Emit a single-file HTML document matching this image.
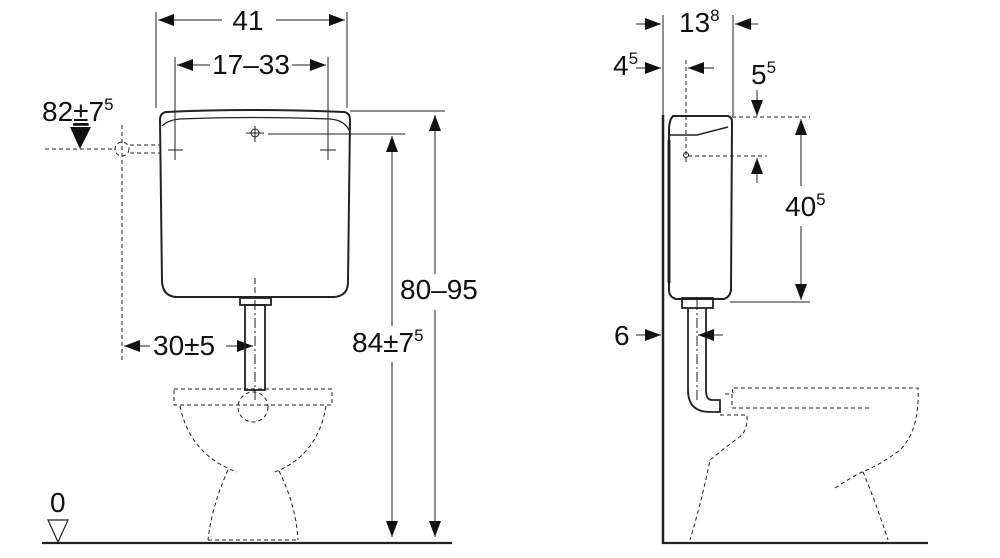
<!DOCTYPE html>
<html><head><meta charset="utf-8"><style>
html,body{margin:0;padding:0;background:#fff;}
svg{display:block;}
text{font-family:"Liberation Sans",sans-serif;fill:#111;}
</style></head><body>
<svg width="1000" height="558" viewBox="0 0 1000 558" xmlns="http://www.w3.org/2000/svg">
<defs>
<marker id="b" viewBox="0 0 16 12" refX="16" refY="6" markerWidth="16" markerHeight="12" orient="auto-start-reverse" markerUnits="userSpaceOnUse"><path d="M0,0L16,6L0,12z" fill="#111"/></marker>
</defs>
<g stroke="#222" stroke-width="1" fill="none">
<!-- LEFT VIEW -->
<line x1="156" y1="12" x2="156" y2="108"/>
<line x1="347" y1="12" x2="347" y2="108"/>
<line x1="158" y1="20" x2="222" y2="20" marker-start="url(#b)"/>
<line x1="276" y1="20" x2="345" y2="20" marker-end="url(#b)"/>
<line x1="175" y1="57" x2="175" y2="160"/>
<line x1="328" y1="57" x2="328" y2="160"/>
<line x1="177" y1="65" x2="210" y2="65" marker-start="url(#b)"/>
<line x1="292" y1="65" x2="326" y2="65" marker-end="url(#b)"/>
<path d="M166,112 Q248,108 344,112 Q350,113 350,120 L348,282 Q348,296 334,297 L176,297 Q163,296 162,282 L160,120 Q160,113 166,112Z" stroke-width="2"/>
<path d="M162,126 Q168,120 180,119 Q250,116 330,119 Q344,120 349,130" stroke-width="1.3"/>
<line x1="168" y1="150" x2="183" y2="150"/><line x1="175" y1="143" x2="175" y2="158"/>
<line x1="320" y1="150" x2="336" y2="150"/><line x1="328" y1="143" x2="328" y2="158"/>
<circle cx="255" cy="133" r="4"/><line x1="246" y1="133" x2="264" y2="133"/><line x1="255" y1="126" x2="255" y2="142"/>
<line x1="268" y1="134" x2="405" y2="134"/>
<line x1="350" y1="111" x2="445" y2="111"/>
<line x1="435" y1="115" x2="435" y2="274" marker-start="url(#b)"/>
<line x1="435" y1="310" x2="435" y2="537" marker-end="url(#b)"/>
<line x1="392" y1="136" x2="392" y2="326" marker-start="url(#b)"/>
<line x1="392" y1="362" x2="392" y2="537" marker-end="url(#b)"/>
<path d="M70,127 L91,127 L80,149Z" fill="#111" stroke="none"/>
<g stroke-dasharray="4,3">
<line x1="45" y1="149" x2="116" y2="149"/>
<circle cx="122" cy="149" r="7"/>
<line x1="130" y1="145" x2="160" y2="145"/>
<line x1="130" y1="153" x2="160" y2="153"/>
<line x1="122" y1="125" x2="122" y2="360"/>
<line x1="255" y1="278" x2="255" y2="295" stroke-dasharray="6,3"/>
</g>
<line x1="124" y1="346" x2="150" y2="346" marker-start="url(#b)"/>
<line x1="226" y1="346" x2="253" y2="346" marker-end="url(#b)"/>
<rect x="240" y="298" width="31" height="7" stroke-width="1.8"/>
<rect x="245" y="305" width="20" height="85" stroke-width="1.8"/>
<line x1="255" y1="300" x2="255" y2="403" stroke-dasharray="10,3,2,3"/>
<g stroke-dasharray="4,3">
<rect x="174" y="389" width="158" height="16"/>
<circle cx="253" cy="407" r="15"/>
<path d="M180,406 Q190,455 237,472"/>
<path d="M326,406 Q318,455 275,472"/>
<path d="M228,470 Q212,505 208,540"/>
<path d="M279,471 Q296,505 298,540"/>
<line x1="208" y1="540" x2="298" y2="540"/>
</g>
<line x1="42" y1="543" x2="452" y2="543" stroke-width="2.2"/>
<path d="M48,520 L68,520 L58,542Z" stroke-width="1.2"/>

<!-- RIGHT VIEW -->
<line x1="663" y1="15" x2="663" y2="115"/>
<line x1="733" y1="15" x2="733" y2="117"/>
<line x1="636" y1="24" x2="661" y2="24" marker-end="url(#b)"/>
<line x1="758" y1="24" x2="735" y2="24" marker-end="url(#b)"/>
<line x1="636" y1="68" x2="661" y2="68" marker-end="url(#b)"/>
<line x1="714" y1="68" x2="688" y2="68" marker-end="url(#b)"/>
<line x1="686" y1="60" x2="686" y2="165" stroke-dasharray="4,3"/>
<line x1="663" y1="115" x2="663" y2="544" stroke-width="2.5"/>
<line x1="662" y1="543" x2="928" y2="543" stroke-width="2.2"/>
<path d="M673,116 L728,116 Q732,117 732,122 L731,290 Q730,297 724,299 L676,299 Q669,297 669,290 L669,130 Q669,120 673,116Z" stroke-width="2"/>
<path d="M669,135 L697,135 L728,127" stroke-width="1.5"/>
<line x1="669" y1="140" x2="669" y2="283" stroke-width="3"/>
<circle cx="686" cy="155" r="2.5"/>
<line x1="688" y1="156" x2="767" y2="156" stroke-dasharray="4,3"/>
<line x1="732" y1="117" x2="810" y2="117" stroke-dasharray="4,3"/>
<line x1="757" y1="90" x2="757" y2="116" marker-end="url(#b)"/>
<line x1="757" y1="183" x2="757" y2="158" marker-end="url(#b)"/>
<line x1="801" y1="119" x2="801" y2="186" marker-start="url(#b)"/>
<line x1="801" y1="226" x2="801" y2="300" marker-end="url(#b)"/>
<line x1="730" y1="302" x2="810" y2="302"/>
<rect x="682" y="298" width="31" height="10" stroke-width="1.8"/>
<path d="M688,308 L688,390 Q688,412 710,412 L720,412 L720,400 L712,400 Q706,400 706,390 L706,308" stroke-width="1.8"/>
<line x1="697" y1="300" x2="697" y2="400" stroke-dasharray="10,3,2,3"/>
<line x1="636" y1="335" x2="661" y2="335" marker-end="url(#b)"/>
<line x1="723" y1="335" x2="698" y2="335" marker-end="url(#b)"/>
<g stroke-dasharray="4,3">
<path d="M733,393 L732,388 L918,388 Q920,430 900,450 Q880,465 862,472 Q850,478 835,488"/>
<path d="M725,394 L732,394 L732,408 L870,408"/>
<path d="M720,415 L747,415 Q748,432 738,438 Q722,450 710,460 Q702,500 690,540"/>
<path d="M863,472 Q875,500 888,540"/>
</g>
</g>
<g font-size="28">
<text x="248" y="30" text-anchor="middle">41</text>
<text x="251" y="74" text-anchor="middle">17–33</text>
<text x="42" y="121">82<tspan text-decoration="underline">±</tspan>7<tspan font-size="17" dy="-11">5</tspan></text>
<text x="153" y="355">30±5</text>
<text x="352" y="352">84±7<tspan font-size="17" dy="-11">5</tspan></text>
<text x="400" y="299">80–95</text>
<text x="50" y="512">0</text>
<text x="679" y="32">13<tspan font-size="17" dy="-11">8</tspan></text>
<text x="613" y="75">4<tspan font-size="17" dy="-11">5</tspan></text>
<text x="751" y="84">5<tspan font-size="17" dy="-11">5</tspan></text>
<text x="785" y="216">40<tspan font-size="17" dy="-11">5</tspan></text>
<text x="614" y="345">6</text>
</g>
</svg>
</body></html>
